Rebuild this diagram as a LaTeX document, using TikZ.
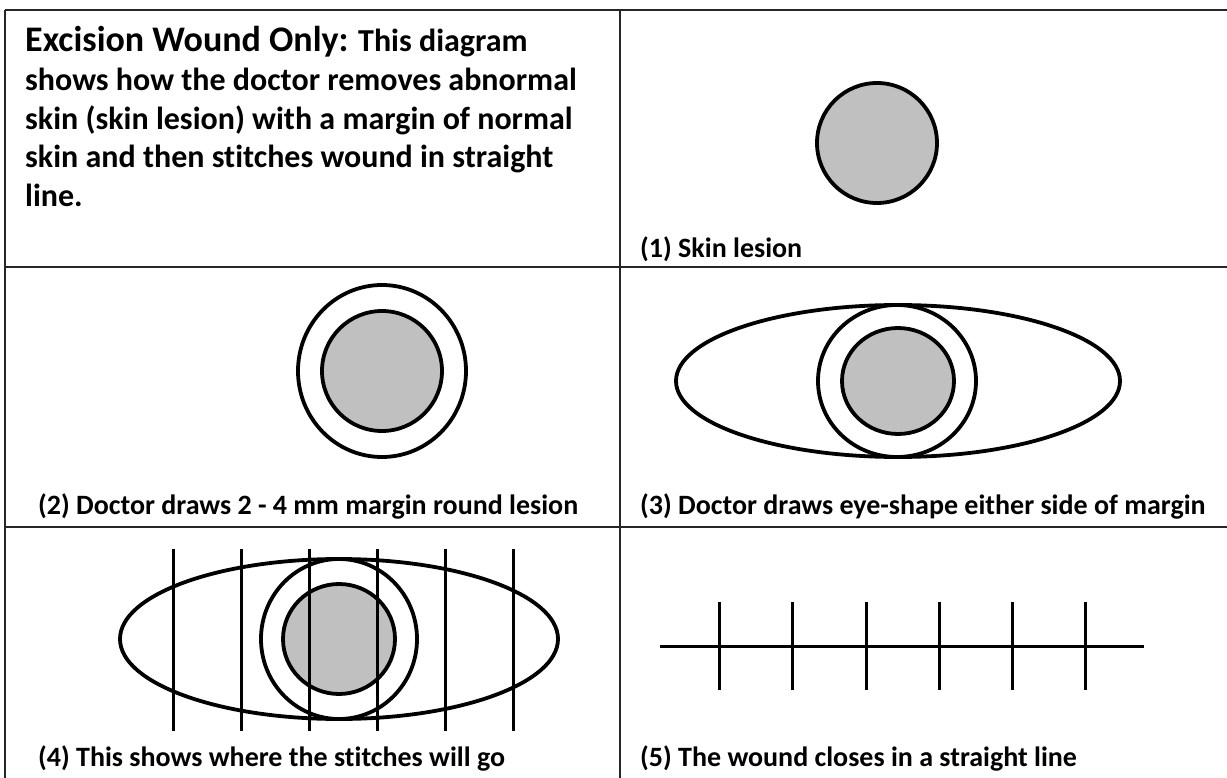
\documentclass[tikz,border=0pt]{standalone}
\usepackage{fontspec}
\setmainfont{Carlito}[Ligatures=NoCommon]
\begin{document}
\begin{tikzpicture}[x=1pt,y=-1pt,
  grid/.style={line width=2pt,draw=black!85},
  outl/.style={line width=3.8pt,draw=black},
  lesion/.style={outl,fill=lesiongray},
  stitch/.style={line width=3pt,draw=black},
  lbl/.style={anchor=base west,inner sep=0pt,font=\bfseries\fontsize{28}{32}\selectfont},
  ttl/.style={anchor=base west,inner sep=0pt,font=\bfseries\fontsize{32}{38}\selectfont}]
\definecolor{lesiongray}{HTML}{C0C0C0}
\useasboundingbox (0,0) rectangle (1227,778);
% grid
\coordinate (tl) at (5,10);
\coordinate (tr) at (1227,10);
\coordinate (bl) at (5,778);
\coordinate (dt) at (620,10);
\coordinate (db) at (620,778);
\coordinate (r1l) at (5,267);
\coordinate (r1r) at (1227,267);
\coordinate (r2l) at (5,527);
\coordinate (r2r) at (1227,527);
\draw[grid] (tl) -- (tr);
\draw[grid] (tl) -- (bl);
\draw[grid] (dt) -- (db);
\draw[grid] (r1l) -- (r1r);
\draw[grid] (r2l) -- (r2r);
% title
\node[ttl] (t1) at (25,52) {{\fontsize{36}{40}\selectfont Excision Wound Only:} This diagram};
\node[ttl] (t2) at (25,91) {shows how the doctor removes abnormal};
\node[ttl] (t3) at (25,129.5) {skin (skin lesion) with a margin of normal};
\node[ttl] (t4) at (25,168) {skin and then stitches wound in straight};
\node[ttl] (t5) at (25,206.5) {line.};
% (1)
\draw[lesion] (877,143) circle[radius=60];
\node[lbl] (l1) at (640,258) {(1) Skin lesion};
% (2)
\draw[outl] (382,371) ellipse[x radius=84,y radius=86];
\draw[lesion] (382,371) circle[radius=60];
\node[lbl] (l2) at (38,514) {(2) Doctor draws 2 - 4 mm margin round lesion};
% (3)
\draw[outl] (898,381) ellipse[x radius=222,y radius=76];
\draw[outl] (897,381) ellipse[x radius=79,y radius=76];
\draw[lesion] (898,381) ellipse[x radius=56,y radius=53];
\node[lbl] (l3) at (640,514) {(3) Doctor draws eye-shape either side of margin};
% (4)
\draw[outl] (339,639) ellipse[x radius=219,y radius=80];
\draw[outl] (339,639) ellipse[x radius=78,y radius=80];
\draw[lesion] (339,639) ellipse[x radius=56,y radius=55];
\foreach \x in {173,241,309,377,445,513}{
  \draw[stitch] (\x,549) -- (\x,731);
}
\node[lbl] (l4) at (38,766) {(4) This shows where the stitches will go};
% (5)
\draw[stitch] (660,646) -- (1144,646);
\foreach \x in {719,792,866,939,1012,1085}{
  \draw[stitch] (\x,602) -- (\x,690);
}
\node[lbl] (l5) at (640,766) {(5) The wound closes in a straight line};
\end{tikzpicture}
\end{document}
